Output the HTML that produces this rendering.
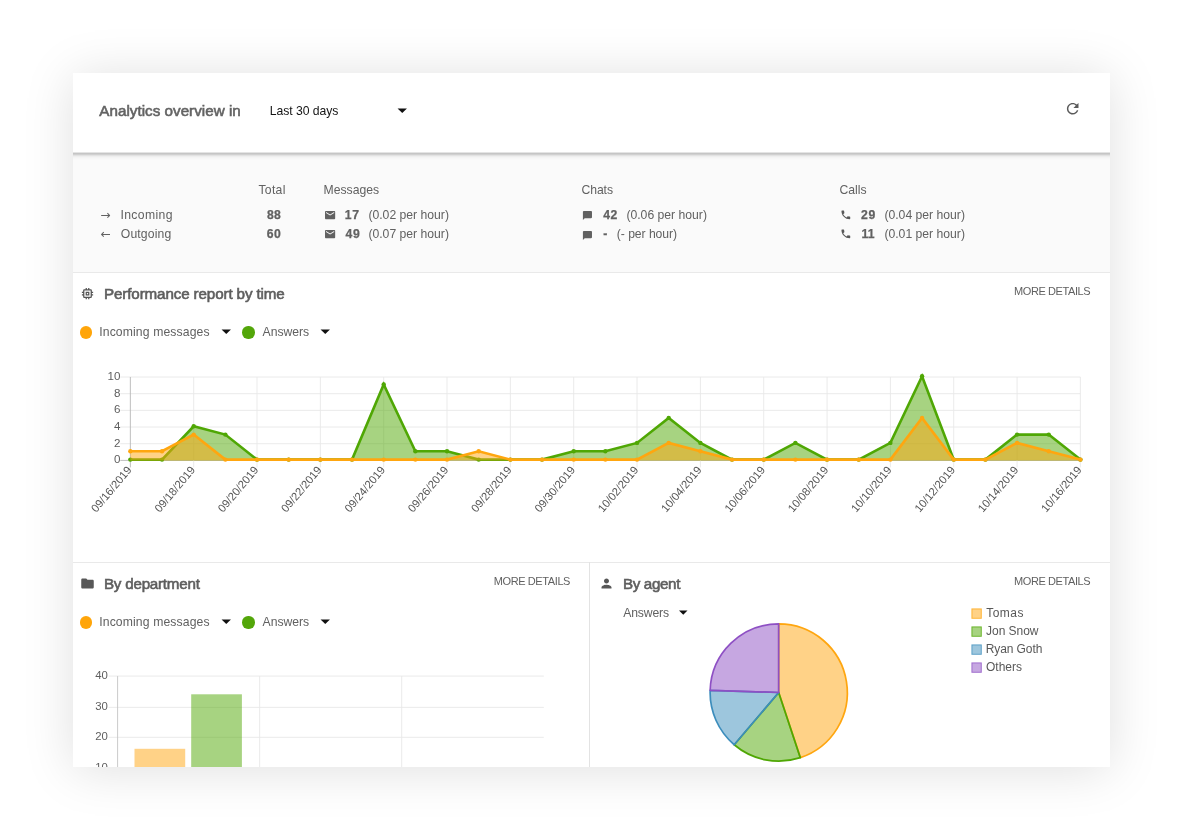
<!DOCTYPE html>
<html lang="en"><head><meta charset="utf-8"><title>Analytics overview</title>
<style>
html,body{margin:0;padding:0;background:#fff;}
body{width:1182px;height:840px;position:relative;overflow:hidden;font-family:"Liberation Sans",sans-serif;}
.card{position:absolute;left:72.5px;top:72.5px;width:1037px;height:694.7px;background:#fff;box-shadow:0 3px 48px rgba(0,0,0,.13);overflow:hidden;}
.stats{position:absolute;left:0;top:80px;width:1037px;height:119.6px;background:#fafafa;}
.hdr{position:absolute;left:0;top:0;width:1037px;height:79.6px;background:#fff;}
.hsh{position:absolute;left:0;top:79.5px;width:1037px;height:9px;background:linear-gradient(to bottom,#e4e4e4 0.5px,#c5c5c5 1.5px,#d0d0d0 2.5px,#e2e2e2 3.5px,#eeeeee 4.5px,#f4f4f4 5.5px,#f7f7f7 6.5px,#f9f9f9 7.5px,#fafafa 8.5px);}
.hl{position:absolute;left:0;width:1037px;height:1px;background:#e9e9e9;}
.vl{position:absolute;width:1px;background:#e3e3e3;}
.t{position:absolute;white-space:pre;line-height:20px;}
.ic{position:absolute;display:block;}
.dot{position:absolute;border-radius:50%;}
svg{position:absolute;overflow:visible;}
svg text{font-family:"Liberation Sans",sans-serif;}
</style></head><body>
<div class="card">
<div class="stats"></div>
<div class="hdr"></div>
<div class="hsh"></div>
<div class="hl" style="top:199.3px"></div>
<div class="hl" style="top:489.3px"></div>
<div class="vl" style="left:516px;top:489.3px;height:210px"></div>
</div>

<div class="t" style="left:99.37px;top:100.50px;font-size:15.2px;font-weight:normal;color:#636363;-webkit-text-stroke:0.6px #636363;letter-spacing:0.022px;">Analytics overview in</div>
<div class="t" style="left:269.69px;top:101.00px;font-size:12.2px;font-weight:normal;color:#141414;letter-spacing:-0.033px;">Last 30 days</div>
<div class="t" style="left:258.40px;top:180.00px;font-size:12.2px;font-weight:normal;color:#616161;letter-spacing:0.315px;">Total</div>
<div class="t" style="left:323.55px;top:180.00px;font-size:12.2px;font-weight:normal;color:#616161;letter-spacing:-0.005px;">Messages</div>
<div class="t" style="left:581.53px;top:180.00px;font-size:12.2px;font-weight:normal;color:#616161;letter-spacing:-0.091px;">Chats</div>
<div class="t" style="left:839.49px;top:180.00px;font-size:12.2px;font-weight:normal;color:#616161;">Calls</div>
<div class="t" style="left:100.20px;top:205.00px;font-size:12.2px;font-weight:normal;color:#616161;font-family:'DejaVu Sans',sans-serif;">→</div>
<div class="t" style="left:120.42px;top:205.00px;font-size:12.2px;font-weight:normal;color:#616161;letter-spacing:0.370px;">Incoming</div>
<div class="t" style="left:266.89px;top:205.00px;font-size:12.2px;font-weight:bold;color:#616161;-webkit-text-stroke:0.25px #616161;letter-spacing:0.277px;">88</div>
<div class="t" style="left:344.68px;top:205.00px;font-size:12.2px;font-weight:bold;color:#616161;-webkit-text-stroke:0.25px #616161;letter-spacing:0.766px;">17</div>
<div class="t" style="left:368.42px;top:205.00px;font-size:12.2px;font-weight:normal;color:#616161;letter-spacing:-0.006px;">(0.02 per hour)</div>
<div class="t" style="left:603.19px;top:205.00px;font-size:12.2px;font-weight:bold;color:#616161;-webkit-text-stroke:0.25px #616161;letter-spacing:0.556px;">42</div>
<div class="t" style="left:626.42px;top:205.00px;font-size:12.2px;font-weight:normal;color:#616161;letter-spacing:-0.006px;">(0.06 per hour)</div>
<div class="t" style="left:861.12px;top:205.00px;font-size:12.2px;font-weight:bold;color:#616161;-webkit-text-stroke:0.25px #616161;letter-spacing:0.571px;">29</div>
<div class="t" style="left:884.42px;top:205.00px;font-size:12.2px;font-weight:normal;color:#616161;letter-spacing:-0.006px;">(0.04 per hour)</div>
<div class="t" style="left:100.20px;top:224.00px;font-size:12.2px;font-weight:normal;color:#616161;font-family:'DejaVu Sans',sans-serif;">←</div>
<div class="t" style="left:120.85px;top:224.00px;font-size:12.2px;font-weight:normal;color:#616161;letter-spacing:0.124px;">Outgoing</div>
<div class="t" style="left:266.84px;top:224.00px;font-size:12.2px;font-weight:bold;color:#616161;-webkit-text-stroke:0.25px #616161;letter-spacing:0.427px;">60</div>
<div class="t" style="left:345.47px;top:224.00px;font-size:12.2px;font-weight:bold;color:#616161;-webkit-text-stroke:0.25px #616161;letter-spacing:0.662px;">49</div>
<div class="t" style="left:368.42px;top:224.00px;font-size:12.2px;font-weight:normal;color:#616161;letter-spacing:-0.006px;">(0.07 per hour)</div>
<div class="t" style="left:603.30px;top:224.00px;font-size:12.2px;font-weight:bold;color:#616161;-webkit-text-stroke:0.25px #616161;">-</div>
<div class="t" style="left:616.81px;top:224.00px;font-size:12.2px;font-weight:normal;color:#616161;letter-spacing:-0.057px;">(- per hour)</div>
<div class="t" style="left:861.45px;top:224.00px;font-size:12.2px;font-weight:bold;color:#616161;-webkit-text-stroke:0.25px #616161;letter-spacing:0.305px;">11</div>
<div class="t" style="left:884.42px;top:224.00px;font-size:12.2px;font-weight:normal;color:#616161;letter-spacing:-0.006px;">(0.01 per hour)</div>
<div class="t" style="left:103.97px;top:283.50px;font-size:15.2px;font-weight:normal;color:#5e5e5e;-webkit-text-stroke:0.6px #5e5e5e;letter-spacing:-0.127px;">Performance report by time</div>
<div class="t" style="left:1014.01px;top:281.00px;font-size:11.0px;font-weight:normal;color:#616161;letter-spacing:-0.406px;">MORE DETAILS</div>
<div class="t" style="left:99.25px;top:322.00px;font-size:12.2px;font-weight:normal;color:#616161;letter-spacing:0.121px;">Incoming messages</div>
<div class="t" style="left:262.59px;top:322.00px;font-size:12.2px;font-weight:normal;color:#616161;letter-spacing:-0.044px;">Answers</div>
<div class="t" style="left:103.97px;top:573.50px;font-size:15.2px;font-weight:normal;color:#5e5e5e;-webkit-text-stroke:0.6px #5e5e5e;letter-spacing:-0.236px;">By department</div>
<div class="t" style="left:493.82px;top:571.00px;font-size:11.0px;font-weight:normal;color:#616161;letter-spacing:-0.407px;">MORE DETAILS</div>
<div class="t" style="left:99.25px;top:612.00px;font-size:12.2px;font-weight:normal;color:#616161;letter-spacing:0.121px;">Incoming messages</div>
<div class="t" style="left:262.59px;top:612.00px;font-size:12.2px;font-weight:normal;color:#616161;letter-spacing:-0.044px;">Answers</div>
<div class="t" style="left:623.00px;top:573.50px;font-size:15.2px;font-weight:normal;color:#5e5e5e;-webkit-text-stroke:0.6px #5e5e5e;letter-spacing:-0.372px;">By agent</div>
<div class="t" style="left:1014.01px;top:571.00px;font-size:11.0px;font-weight:normal;color:#616161;letter-spacing:-0.406px;">MORE DETAILS</div>
<div class="t" style="left:623.32px;top:603.00px;font-size:12.2px;font-weight:normal;color:#616161;letter-spacing:-0.175px;">Answers</div>
<div class="t" style="left:986.20px;top:603.00px;font-size:12.0px;font-weight:normal;color:#585858;letter-spacing:0.487px;">Tomas</div>
<div class="t" style="left:986.02px;top:621.00px;font-size:12.0px;font-weight:normal;color:#585858;letter-spacing:-0.030px;">Jon Snow</div>
<div class="t" style="left:985.73px;top:639.00px;font-size:12.0px;font-weight:normal;color:#585858;letter-spacing:-0.092px;">Ryan Goth</div>
<div class="t" style="left:985.99px;top:657.00px;font-size:12.0px;font-weight:normal;color:#585858;letter-spacing:0.013px;">Others</div>
<svg class="ic" style="left:1064.00px;top:100.00px" width="17.4" height="17.4" viewBox="0 0 24 24"><path fill="#5a5a5a" d="M17.65 6.35C16.2 4.9 14.21 4 12 4c-4.42 0-7.99 3.58-7.99 8s3.57 8 7.99 8c3.73 0 6.84-2.55 7.73-6h-2.08c-.82 2.33-3.04 4-5.65 4-3.31 0-6-2.69-6-6s2.69-6 6-6c1.66 0 3.14.69 4.22 1.78L13 11h7V4l-2.35 2.35z"/></svg>
<svg class="ic" style="left:323.90px;top:209.10px" width="12.2" height="12.2" viewBox="0 0 24 24"><path fill="#616161" d="M20 4H4c-1.1 0-1.99.9-1.99 2L2 18c0 1.1.9 2 2 2h16c1.1 0 2-.9 2-2V6c0-1.1-.9-2-2-2zm0 4l-8 5-8-5V6l8 5 8-5v2z"/></svg>
<svg class="ic" style="left:323.90px;top:228.40px" width="12.2" height="12.2" viewBox="0 0 24 24"><path fill="#616161" d="M20 4H4c-1.1 0-1.99.9-1.99 2L2 18c0 1.1.9 2 2 2h16c1.1 0 2-.9 2-2V6c0-1.1-.9-2-2-2zm0 4l-8 5-8-5V6l8 5 8-5v2z"/></svg>
<svg class="ic" style="left:582.20px;top:209.70px" width="10.9" height="10.9" viewBox="0 0 24 24"><path fill="#616161" d="M20 2H4c-1.1 0-2 .9-2 2v18l4-4h14c1.1 0 2-.9 2-2V4c0-1.1-.9-2-2-2z"/></svg>
<svg class="ic" style="left:582.20px;top:229.50px" width="10.9" height="10.9" viewBox="0 0 24 24"><path fill="#616161" d="M20 2H4c-1.1 0-2 .9-2 2v18l4-4h14c1.1 0 2-.9 2-2V4c0-1.1-.9-2-2-2z"/></svg>
<svg class="ic" style="left:839.60px;top:208.50px" width="11.7" height="11.7" viewBox="0 0 24 24"><path fill="#585858" d="M6.62 10.79c1.44 2.83 3.76 5.14 6.59 6.59l2.2-2.2c.27-.27.67-.36 1.02-.24 1.12.37 2.33.57 3.57.57.55 0 1 .45 1 1V20c0 .55-.45 1-1 1-9.39 0-17-7.61-17-17 0-.55.45-1 1-1h3.5c.55 0 1 .45 1 1 0 1.25.2 2.45.57 3.57.11.35.03.74-.25 1.02l-2.2 2.2z"/></svg>
<svg class="ic" style="left:839.60px;top:228.40px" width="11.7" height="11.7" viewBox="0 0 24 24"><path fill="#585858" d="M6.62 10.79c1.44 2.83 3.76 5.14 6.59 6.59l2.2-2.2c.27-.27.67-.36 1.02-.24 1.12.37 2.33.57 3.57.57.55 0 1 .45 1 1V20c0 .55-.45 1-1 1-9.39 0-17-7.61-17-17 0-.55.45-1 1-1h3.5c.55 0 1 .45 1 1 0 1.25.2 2.45.57 3.57.11.35.03.74-.25 1.02l-2.2 2.2z"/></svg>
<svg class="ic" style="left:79.55px;top:286.05px" width="15.0" height="15.0" viewBox="0 0 24 24"><path fill="#555" d="M15 9H9v6h6V9zm-2 4h-2v-2h2v2zm8-2V9h-2V7c0-1.1-.9-2-2-2h-2V3h-2v2h-2V3H9v2H7c-1.1 0-2 .9-2 2v2H3v2h2v2H3v2h2v2c0 1.1.9 2 2 2h2v2h2v-2h2v2h2v-2h2c1.1 0 2-.9 2-2v-2h2v-2h-2v-2h2zm-4 6H7V7h10v10z"/></svg>
<svg class="ic" style="left:79.55px;top:576.10px" width="15.0" height="15.0" viewBox="0 0 24 24"><path fill="#575757" d="M10 4H4c-1.1 0-1.99.9-1.99 2L2 18c0 1.1.9 2 2 2h16c1.1 0 2-.9 2-2V8c0-1.1-.9-2-2-2h-8l-2-2z"/></svg>
<svg class="ic" style="left:599.30px;top:576.30px" width="15.0" height="15.0" viewBox="0 0 24 24"><path fill="#575757" d="M12 12c2.21 0 4-1.79 4-4s-1.79-4-4-4-4 1.79-4 4 1.79 4 4 4zm0 2c-2.67 0-8 1.34-8 4v2h16v-2c0-2.66-5.33-4-8-4z"/></svg>
<svg class="ic" style="left:390.85px;top:98.68px" width="22.5" height="22.5" viewBox="0 0 24 24"><path fill="#111" d="M7 10l5 5 5-5z"/></svg>
<svg class="ic" style="left:214.55px;top:320.28px" width="22.5" height="22.5" viewBox="0 0 24 24"><path fill="#111" d="M7 10l5 5 5-5z"/></svg>
<svg class="ic" style="left:314.05px;top:320.28px" width="22.5" height="22.5" viewBox="0 0 24 24"><path fill="#111" d="M7 10l5 5 5-5z"/></svg>
<svg class="ic" style="left:214.55px;top:610.28px" width="22.5" height="22.5" viewBox="0 0 24 24"><path fill="#111" d="M7 10l5 5 5-5z"/></svg>
<svg class="ic" style="left:314.05px;top:610.28px" width="22.5" height="22.5" viewBox="0 0 24 24"><path fill="#111" d="M7 10l5 5 5-5z"/></svg>
<svg class="ic" style="left:673.45px;top:602.22px" width="20.5" height="20.5" viewBox="0 0 24 24"><path fill="#111" d="M7 10l5 5 5-5z"/></svg>
<div class="dot" style="left:79.75px;top:326.45px;width:12.3px;height:12.3px;background:#ffa50a"></div>
<div class="dot" style="left:242.35px;top:326.45px;width:12.3px;height:12.3px;background:#53a60a"></div>
<div class="dot" style="left:79.75px;top:616.45px;width:12.3px;height:12.3px;background:#ffa50a"></div>
<div class="dot" style="left:242.35px;top:616.45px;width:12.3px;height:12.3px;background:#53a60a"></div>
<div style="position:absolute;left:0;top:0;width:1182px;height:767.2px;overflow:hidden"><svg width="1182" height="840" style="left:0;top:0" viewBox="0 0 1182 840">
<line x1="120.3" y1="460.40" x2="1080.4" y2="460.40" stroke="#b8b8b8" stroke-width="0.9"/>
<text x="120.4" y="463.30" font-size="11.6" fill="#5e5e5e" text-anchor="end">0</text>
<line x1="120.3" y1="443.72" x2="1080.4" y2="443.72" stroke="#e8e8e8" stroke-width="0.9"/>
<text x="120.4" y="446.62" font-size="11.6" fill="#5e5e5e" text-anchor="end">2</text>
<line x1="120.3" y1="427.04" x2="1080.4" y2="427.04" stroke="#e8e8e8" stroke-width="0.9"/>
<text x="120.4" y="429.94" font-size="11.6" fill="#5e5e5e" text-anchor="end">4</text>
<line x1="120.3" y1="410.36" x2="1080.4" y2="410.36" stroke="#e8e8e8" stroke-width="0.9"/>
<text x="120.4" y="413.26" font-size="11.6" fill="#5e5e5e" text-anchor="end">6</text>
<line x1="120.3" y1="393.68" x2="1080.4" y2="393.68" stroke="#e8e8e8" stroke-width="0.9"/>
<text x="120.4" y="396.58" font-size="11.6" fill="#5e5e5e" text-anchor="end">8</text>
<line x1="120.3" y1="377.00" x2="1080.4" y2="377.00" stroke="#e8e8e8" stroke-width="0.9"/>
<text x="120.4" y="379.90" font-size="11.6" fill="#5e5e5e" text-anchor="end">10</text>
<line x1="130.35" y1="377.0" x2="130.35" y2="467.4" stroke="#b8b8b8" stroke-width="0.9"/>
<text transform="translate(130.05,468.30) rotate(-50)" font-size="11.2" fill="#555" text-anchor="end" dominant-baseline="middle">09/16/2019</text>
<line x1="193.69" y1="377.0" x2="193.69" y2="467.4" stroke="#e8e8e8" stroke-width="0.9"/>
<text transform="translate(193.39,468.30) rotate(-50)" font-size="11.2" fill="#555" text-anchor="end" dominant-baseline="middle">09/18/2019</text>
<line x1="257.02" y1="377.0" x2="257.02" y2="467.4" stroke="#e8e8e8" stroke-width="0.9"/>
<text transform="translate(256.72,468.30) rotate(-50)" font-size="11.2" fill="#555" text-anchor="end" dominant-baseline="middle">09/20/2019</text>
<line x1="320.36" y1="377.0" x2="320.36" y2="467.4" stroke="#e8e8e8" stroke-width="0.9"/>
<text transform="translate(320.06,468.30) rotate(-50)" font-size="11.2" fill="#555" text-anchor="end" dominant-baseline="middle">09/22/2019</text>
<line x1="383.70" y1="377.0" x2="383.70" y2="467.4" stroke="#e8e8e8" stroke-width="0.9"/>
<text transform="translate(383.40,468.30) rotate(-50)" font-size="11.2" fill="#555" text-anchor="end" dominant-baseline="middle">09/24/2019</text>
<line x1="447.03" y1="377.0" x2="447.03" y2="467.4" stroke="#e8e8e8" stroke-width="0.9"/>
<text transform="translate(446.73,468.30) rotate(-50)" font-size="11.2" fill="#555" text-anchor="end" dominant-baseline="middle">09/26/2019</text>
<line x1="510.37" y1="377.0" x2="510.37" y2="467.4" stroke="#e8e8e8" stroke-width="0.9"/>
<text transform="translate(510.07,468.30) rotate(-50)" font-size="11.2" fill="#555" text-anchor="end" dominant-baseline="middle">09/28/2019</text>
<line x1="573.71" y1="377.0" x2="573.71" y2="467.4" stroke="#e8e8e8" stroke-width="0.9"/>
<text transform="translate(573.41,468.30) rotate(-50)" font-size="11.2" fill="#555" text-anchor="end" dominant-baseline="middle">09/30/2019</text>
<line x1="637.04" y1="377.0" x2="637.04" y2="467.4" stroke="#e8e8e8" stroke-width="0.9"/>
<text transform="translate(636.74,468.30) rotate(-50)" font-size="11.2" fill="#555" text-anchor="end" dominant-baseline="middle">10/02/2019</text>
<line x1="700.38" y1="377.0" x2="700.38" y2="467.4" stroke="#e8e8e8" stroke-width="0.9"/>
<text transform="translate(700.08,468.30) rotate(-50)" font-size="11.2" fill="#555" text-anchor="end" dominant-baseline="middle">10/04/2019</text>
<line x1="763.72" y1="377.0" x2="763.72" y2="467.4" stroke="#e8e8e8" stroke-width="0.9"/>
<text transform="translate(763.42,468.30) rotate(-50)" font-size="11.2" fill="#555" text-anchor="end" dominant-baseline="middle">10/06/2019</text>
<line x1="827.05" y1="377.0" x2="827.05" y2="467.4" stroke="#e8e8e8" stroke-width="0.9"/>
<text transform="translate(826.75,468.30) rotate(-50)" font-size="11.2" fill="#555" text-anchor="end" dominant-baseline="middle">10/08/2019</text>
<line x1="890.39" y1="377.0" x2="890.39" y2="467.4" stroke="#e8e8e8" stroke-width="0.9"/>
<text transform="translate(890.09,468.30) rotate(-50)" font-size="11.2" fill="#555" text-anchor="end" dominant-baseline="middle">10/10/2019</text>
<line x1="953.73" y1="377.0" x2="953.73" y2="467.4" stroke="#e8e8e8" stroke-width="0.9"/>
<text transform="translate(953.43,468.30) rotate(-50)" font-size="11.2" fill="#555" text-anchor="end" dominant-baseline="middle">10/12/2019</text>
<line x1="1017.06" y1="377.0" x2="1017.06" y2="467.4" stroke="#e8e8e8" stroke-width="0.9"/>
<text transform="translate(1016.76,468.30) rotate(-50)" font-size="11.2" fill="#555" text-anchor="end" dominant-baseline="middle">10/14/2019</text>
<line x1="1080.40" y1="377.0" x2="1080.40" y2="467.4" stroke="#e8e8e8" stroke-width="0.9"/>
<text transform="translate(1080.10,468.30) rotate(-50)" font-size="11.2" fill="#555" text-anchor="end" dominant-baseline="middle">10/16/2019</text>
<polygon points="130.35,460.40 130.35,459.60 162.02,459.60 193.69,426.24 225.36,434.58 257.02,459.60 288.69,459.60 320.36,459.60 352.03,459.60 383.70,384.54 415.37,451.26 447.03,451.26 478.70,459.60 510.37,459.60 542.04,459.60 573.71,451.26 605.38,451.26 637.04,442.92 668.71,417.90 700.38,442.92 732.05,459.60 763.72,459.60 795.39,442.92 827.05,459.60 858.72,459.60 890.39,442.92 922.06,376.20 953.73,459.60 985.40,459.60 1017.06,434.58 1048.73,434.58 1080.40,459.60 1080.40,460.40" fill="#4fa704" fill-opacity="0.5"/><polyline points="130.35,459.60 162.02,459.60 193.69,426.24 225.36,434.58 257.02,459.60 288.69,459.60 320.36,459.60 352.03,459.60 383.70,384.54 415.37,451.26 447.03,451.26 478.70,459.60 510.37,459.60 542.04,459.60 573.71,451.26 605.38,451.26 637.04,442.92 668.71,417.90 700.38,442.92 732.05,459.60 763.72,459.60 795.39,442.92 827.05,459.60 858.72,459.60 890.39,442.92 922.06,376.20 953.73,459.60 985.40,459.60 1017.06,434.58 1048.73,434.58 1080.40,459.60" fill="none" stroke="#4fa704" stroke-width="2.6" stroke-linejoin="miter" stroke-miterlimit="10" stroke-linecap="butt"/><circle cx="130.35" cy="459.60" r="2.2" fill="#4fa704"/><circle cx="162.02" cy="459.60" r="2.2" fill="#4fa704"/><circle cx="193.69" cy="426.24" r="2.2" fill="#4fa704"/><circle cx="225.36" cy="434.58" r="2.2" fill="#4fa704"/><circle cx="257.02" cy="459.60" r="2.2" fill="#4fa704"/><circle cx="288.69" cy="459.60" r="2.2" fill="#4fa704"/><circle cx="320.36" cy="459.60" r="2.2" fill="#4fa704"/><circle cx="352.03" cy="459.60" r="2.2" fill="#4fa704"/><circle cx="383.70" cy="384.54" r="2.2" fill="#4fa704"/><circle cx="415.37" cy="451.26" r="2.2" fill="#4fa704"/><circle cx="447.03" cy="451.26" r="2.2" fill="#4fa704"/><circle cx="478.70" cy="459.60" r="2.2" fill="#4fa704"/><circle cx="510.37" cy="459.60" r="2.2" fill="#4fa704"/><circle cx="542.04" cy="459.60" r="2.2" fill="#4fa704"/><circle cx="573.71" cy="451.26" r="2.2" fill="#4fa704"/><circle cx="605.38" cy="451.26" r="2.2" fill="#4fa704"/><circle cx="637.04" cy="442.92" r="2.2" fill="#4fa704"/><circle cx="668.71" cy="417.90" r="2.2" fill="#4fa704"/><circle cx="700.38" cy="442.92" r="2.2" fill="#4fa704"/><circle cx="732.05" cy="459.60" r="2.2" fill="#4fa704"/><circle cx="763.72" cy="459.60" r="2.2" fill="#4fa704"/><circle cx="795.39" cy="442.92" r="2.2" fill="#4fa704"/><circle cx="827.05" cy="459.60" r="2.2" fill="#4fa704"/><circle cx="858.72" cy="459.60" r="2.2" fill="#4fa704"/><circle cx="890.39" cy="442.92" r="2.2" fill="#4fa704"/><circle cx="922.06" cy="376.20" r="2.2" fill="#4fa704"/><circle cx="953.73" cy="459.60" r="2.2" fill="#4fa704"/><circle cx="985.40" cy="459.60" r="2.2" fill="#4fa704"/><circle cx="1017.06" cy="434.58" r="2.2" fill="#4fa704"/><circle cx="1048.73" cy="434.58" r="2.2" fill="#4fa704"/><circle cx="1080.40" cy="459.60" r="2.2" fill="#4fa704"/>
<polygon points="130.35,460.40 130.35,451.26 162.02,451.26 193.69,434.58 225.36,459.60 257.02,459.60 288.69,459.60 320.36,459.60 352.03,459.60 383.70,459.60 415.37,459.60 447.03,459.60 478.70,451.26 510.37,459.60 542.04,459.60 573.71,459.60 605.38,459.60 637.04,459.60 668.71,442.92 700.38,451.26 732.05,459.60 763.72,459.60 795.39,459.60 827.05,459.60 858.72,459.60 890.39,459.60 922.06,417.90 953.73,459.60 985.40,459.60 1017.06,442.92 1048.73,451.26 1080.40,459.60 1080.40,460.40" fill="#ffa60f" fill-opacity="0.5"/><polyline points="130.35,451.26 162.02,451.26 193.69,434.58 225.36,459.60 257.02,459.60 288.69,459.60 320.36,459.60 352.03,459.60 383.70,459.60 415.37,459.60 447.03,459.60 478.70,451.26 510.37,459.60 542.04,459.60 573.71,459.60 605.38,459.60 637.04,459.60 668.71,442.92 700.38,451.26 732.05,459.60 763.72,459.60 795.39,459.60 827.05,459.60 858.72,459.60 890.39,459.60 922.06,417.90 953.73,459.60 985.40,459.60 1017.06,442.92 1048.73,451.26 1080.40,459.60" fill="none" stroke="#ffa60f" stroke-width="2.6" stroke-linejoin="miter" stroke-miterlimit="10" stroke-linecap="butt"/><circle cx="130.35" cy="451.26" r="2.2" fill="#ffa60f"/><circle cx="162.02" cy="451.26" r="2.2" fill="#ffa60f"/><circle cx="193.69" cy="434.58" r="2.2" fill="#ffa60f"/><circle cx="225.36" cy="459.60" r="2.2" fill="#ffa60f"/><circle cx="257.02" cy="459.60" r="2.2" fill="#ffa60f"/><circle cx="288.69" cy="459.60" r="2.2" fill="#ffa60f"/><circle cx="320.36" cy="459.60" r="2.2" fill="#ffa60f"/><circle cx="352.03" cy="459.60" r="2.2" fill="#ffa60f"/><circle cx="383.70" cy="459.60" r="2.2" fill="#ffa60f"/><circle cx="415.37" cy="459.60" r="2.2" fill="#ffa60f"/><circle cx="447.03" cy="459.60" r="2.2" fill="#ffa60f"/><circle cx="478.70" cy="451.26" r="2.2" fill="#ffa60f"/><circle cx="510.37" cy="459.60" r="2.2" fill="#ffa60f"/><circle cx="542.04" cy="459.60" r="2.2" fill="#ffa60f"/><circle cx="573.71" cy="459.60" r="2.2" fill="#ffa60f"/><circle cx="605.38" cy="459.60" r="2.2" fill="#ffa60f"/><circle cx="637.04" cy="459.60" r="2.2" fill="#ffa60f"/><circle cx="668.71" cy="442.92" r="2.2" fill="#ffa60f"/><circle cx="700.38" cy="451.26" r="2.2" fill="#ffa60f"/><circle cx="732.05" cy="459.60" r="2.2" fill="#ffa60f"/><circle cx="763.72" cy="459.60" r="2.2" fill="#ffa60f"/><circle cx="795.39" cy="459.60" r="2.2" fill="#ffa60f"/><circle cx="827.05" cy="459.60" r="2.2" fill="#ffa60f"/><circle cx="858.72" cy="459.60" r="2.2" fill="#ffa60f"/><circle cx="890.39" cy="459.60" r="2.2" fill="#ffa60f"/><circle cx="922.06" cy="417.90" r="2.2" fill="#ffa60f"/><circle cx="953.73" cy="459.60" r="2.2" fill="#ffa60f"/><circle cx="985.40" cy="459.60" r="2.2" fill="#ffa60f"/><circle cx="1017.06" cy="442.92" r="2.2" fill="#ffa60f"/><circle cx="1048.73" cy="451.26" r="2.2" fill="#ffa60f"/><circle cx="1080.40" cy="459.60" r="2.2" fill="#ffa60f"/>
<line x1="108.7" y1="676.10" x2="543.8" y2="676.10" stroke="#e8e8e8" stroke-width="0.9"/>
<text transform="translate(107.9,678.90) scale(1.085,1)" font-size="10.5" fill="#5e5e5e" text-anchor="end">40</text>
<line x1="108.7" y1="707.40" x2="543.8" y2="707.40" stroke="#e8e8e8" stroke-width="0.9"/>
<text transform="translate(107.9,710.20) scale(1.085,1)" font-size="10.5" fill="#5e5e5e" text-anchor="end">30</text>
<line x1="108.7" y1="737.30" x2="543.8" y2="737.30" stroke="#e8e8e8" stroke-width="0.9"/>
<text transform="translate(107.9,740.10) scale(1.085,1)" font-size="10.5" fill="#5e5e5e" text-anchor="end">20</text>
<line x1="108.7" y1="768.20" x2="543.8" y2="768.20" stroke="#e8e8e8" stroke-width="0.9"/>
<text transform="translate(107.9,771.00) scale(1.085,1)" font-size="10.5" fill="#5e5e5e" text-anchor="end">10</text>
<line x1="117.60" y1="676.1" x2="117.60" y2="800" stroke="#c4c4c4" stroke-width="0.9"/>
<line x1="259.65" y1="676.1" x2="259.65" y2="800" stroke="#e8e8e8" stroke-width="0.9"/>
<line x1="401.70" y1="676.1" x2="401.70" y2="800" stroke="#e8e8e8" stroke-width="0.9"/>
<rect x="134.5" y="748.8" width="50.7" height="100" fill="#ffa60f" fill-opacity="0.5"/>
<rect x="191.2" y="694.3" width="50.7" height="200" fill="#4fa704" fill-opacity="0.5"/>
<path d="M778.7,692.5 L778.70,623.90 A68.6,68.6 0 0 1 800.32,757.61 Z" fill="#ffa60f" fill-opacity="0.5" stroke="#ffa60f" stroke-width="1.7" stroke-linejoin="round"/>
<path d="M778.7,692.5 L800.32,757.61 A68.6,68.6 0 0 1 734.23,744.74 Z" fill="#4fa704" fill-opacity="0.5" stroke="#4fa704" stroke-width="1.7" stroke-linejoin="round"/>
<path d="M778.7,692.5 L734.23,744.74 A68.6,68.6 0 0 1 710.14,690.30 Z" fill="#3c8dbc" fill-opacity="0.5" stroke="#3c8dbc" stroke-width="1.7" stroke-linejoin="round"/>
<path d="M778.7,692.5 L710.14,690.30 A68.6,68.6 0 0 1 778.70,623.90 Z" fill="#8e50c4" fill-opacity="0.5" stroke="#8e50c4" stroke-width="1.7" stroke-linejoin="round"/>
<rect x="971.9" y="608.9" width="9.4" height="9.4" fill="#ffa60f" fill-opacity="0.5" stroke="#ffa60f" stroke-opacity="0.75" stroke-width="1"/>
<rect x="971.9" y="626.9" width="9.4" height="9.4" fill="#4fa704" fill-opacity="0.5" stroke="#4fa704" stroke-opacity="0.75" stroke-width="1"/>
<rect x="971.9" y="644.9" width="9.4" height="9.4" fill="#3c8dbc" fill-opacity="0.5" stroke="#3c8dbc" stroke-opacity="0.75" stroke-width="1"/>
<rect x="971.9" y="662.9" width="9.4" height="9.4" fill="#8e50c4" fill-opacity="0.5" stroke="#8e50c4" stroke-opacity="0.75" stroke-width="1"/>
</svg></div>
</body></html>
